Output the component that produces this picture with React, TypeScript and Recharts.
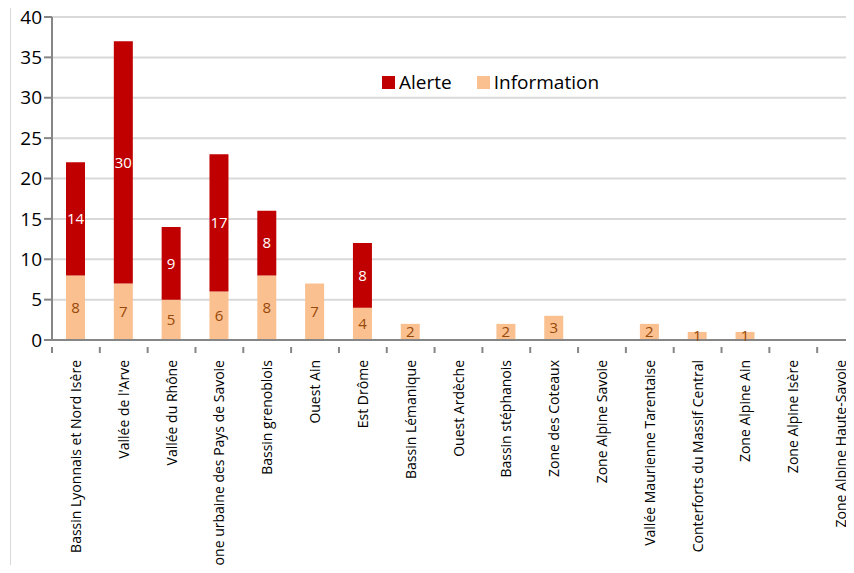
import { BarChart, Bar, XAxis, YAxis, CartesianGrid, Legend, LabelList } from 'recharts'

// Secteurs et nombre de procédures par niveau
const secteurs = [
  'Bassin Lyonnais et Nord Isère',
  "Vallée de l'Arve",
  'Vallée du Rhône',
  'Zone urbaine des Pays de Savoie',
  'Bassin grenoblois',
  'Ouest Ain',
  'Est Drôme',
  'Bassin Lémanique',
  'Ouest Ardèche',
  'Bassin stéphanois',
  'Zone des Coteaux',
  'Zone Alpine Savoie',
  'Vallée Maurienne Tarentaise',
  'Conterforts du Massif Central',
  'Zone Alpine Ain',
  'Zone Alpine Isère',
  'Zone Alpine Haute-Savoie',
]
const information = [8, 7, 5, 6, 8, 7, 4, 2, 0, 2, 3, 0, 2, 1, 1, 0, 0]
const alerte = [14, 30, 9, 17, 8, 0, 8, 0, 0, 0, 0, 0, 0, 0, 0, 0, 0]
const yTicks = [0, 5, 10, 15, 20, 25, 30, 35, 40]

const data = secteurs.map((name, i) => ({ name, information: information[i], alerte: alerte[i] }))

const FONT = '"Open Sans", sans-serif'
const CHART_W = 865
const AXIS_X = 52
const BAND = (CHART_W - AXIS_X) / secteurs.length

function SecteurTick({ x, y, payload }: { x?: number; y?: number; payload?: { value: string } }) {
  const cx = x ?? 0
  const cy = y ?? 0
  return (
    <g>
      <line x1={cx - BAND / 2} x2={cx - BAND / 2} y1={cy - 1} y2={cy + 5} stroke="#868686" strokeWidth={2} />
      <text
        x={0}
        y={0}
        transform={`translate(${cx + 5}, ${cy + 12}) rotate(-90)`}
        textAnchor="end"
        fontSize={14}
        fontFamily={FONT}
        fill="#000"
      >
        {payload?.value}
      </text>
    </g>
  )
}

function LegendeContent() {
  const items = [
    { label: 'Alerte', color: '#C00000' },
    { label: 'Information', color: '#FAC090' },
  ]
  return (
    <div style={{ display: 'flex', gap: 25, fontFamily: FONT, fontSize: 19, color: '#000' }}>
      {items.map((it) => (
        <div key={it.label} style={{ display: 'flex', alignItems: 'center', gap: 4 }}>
          <span style={{ width: 13, height: 13, background: it.color, display: 'inline-block' }} />
          <span>{it.label}</span>
        </div>
      ))}
    </div>
  )
}

const hideZero = (v: any) => (Number(v) === 0 ? '' : v)

export default function App() {
  return (
    <div style={{ position: 'relative', margin: -8, width: 854, height: 573, overflow: 'hidden', background: '#fff' }}>
      <div style={{ position: 'absolute', left: 10, top: 0, bottom: 0, width: 1, background: '#d9d9d9' }} />
      <BarChart
        width={CHART_W}
        height={573}
        data={data}
        margin={{ top: 17, right: 0, left: 0, bottom: 0 }}
        barSize={19}
      >
        <CartesianGrid vertical={false} stroke="#d9d9d9" strokeWidth={2} />
        <XAxis
          dataKey="name"
          interval={0}
          height={233}
          tick={<SecteurTick />}
          tickLine={false}
          axisLine={{ stroke: '#868686', strokeWidth: 2 }}
        />
        <YAxis
          width={AXIS_X}
          domain={[0, 40]}
          ticks={yTicks}
          interval={0}
          tick={{ fontSize: 19, fontFamily: FONT, fill: '#000' }}
          tickSize={8}
          tickLine={{ stroke: '#868686', strokeWidth: 2 }}
          axisLine={{ stroke: '#868686', strokeWidth: 2 }}
        />
        <Legend
          layout="horizontal"
          verticalAlign="middle"
          align="center"
          content={<LegendeContent />}
          wrapperStyle={{ position: 'absolute', left: 382, top: 69, width: 260 }}
        />
        <Bar dataKey="information" name="Information" stackId="a" fill="#FAC090" isAnimationActive={false}>
          <LabelList dataKey="information" position="center" fill="#984807" fontSize={15} fontFamily={FONT} formatter={hideZero} />
        </Bar>
        <Bar dataKey="alerte" name="Alerte" stackId="a" fill="#C00000" isAnimationActive={false}>
          <LabelList dataKey="alerte" position="center" fill="#fff" fontSize={15} fontFamily={FONT} formatter={hideZero} />
        </Bar>
      </BarChart>
    </div>
  )
}
